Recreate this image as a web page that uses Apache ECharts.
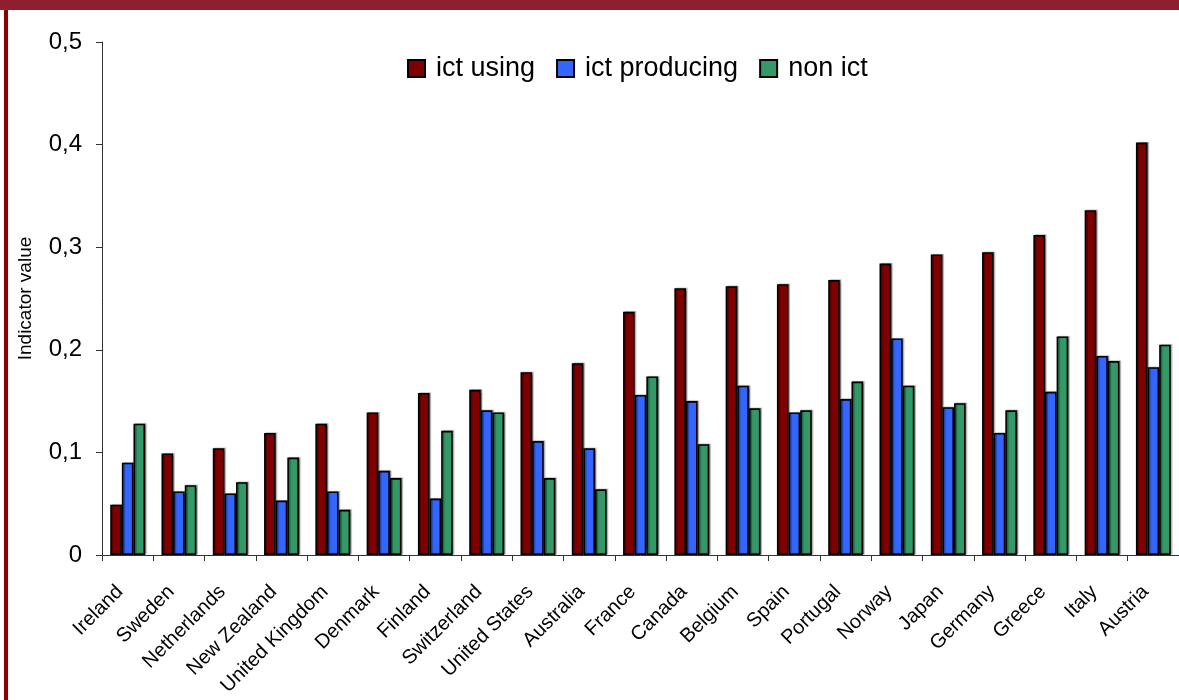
<!DOCTYPE html>
<html>
<head>
<meta charset="utf-8">
<script src="https://cdn.jsdelivr.net/npm/echarts@6/dist/echarts.min.js"></script>
<style>
  html, body { margin: 0; padding: 0; background: #fff; overflow: hidden; }
  #frame { position: relative; width: 1179px; height: 700px; background: #fff; }
  #topband { position: absolute; left: 0; top: 0; width: 1179px; height: 10px; background: #8E1F2F; z-index: 2; }
  #leftrule { position: absolute; left: 4px; top: 10px; width: 4px; height: 690px; background: #8B0000; box-shadow: 0 0 1px #c9a0a0; z-index: 2; }
  #chart { position: absolute; left: 0; top: 0; width: 1179px; height: 700px; }
</style>
</head>
<body>
<div id="frame">
  <div id="chart"></div>
  <div id="topband"></div>
  <div id="leftrule"></div>
</div>
<script>
// Countries, ordered by the ICT-using indicator
const countries = ['Ireland', 'Sweden', 'Netherlands', 'New Zealand', 'United Kingdom', 'Denmark',
  'Finland', 'Switzerland', 'United States', 'Australia', 'France', 'Canada', 'Belgium', 'Spain',
  'Portugal', 'Norway', 'Japan', 'Germany', 'Greece', 'Italy', 'Austria'];

const ictUsing = [0.049, 0.099, 0.104, 0.119, 0.128, 0.139, 0.158, 0.161, 0.178, 0.187, 0.237,
  0.260, 0.262, 0.264, 0.268, 0.284, 0.293, 0.295, 0.312, 0.336, 0.402];

const ictProducing = [0.090, 0.062, 0.060, 0.053, 0.062, 0.082, 0.055, 0.141, 0.111, 0.104, 0.156,
  0.150, 0.165, 0.139, 0.152, 0.211, 0.144, 0.119, 0.159, 0.194, 0.183];

const nonIct = [0.128, 0.068, 0.071, 0.095, 0.044, 0.075, 0.121, 0.139, 0.075, 0.064, 0.174,
  0.108, 0.143, 0.141, 0.169, 0.165, 0.148, 0.141, 0.213, 0.189, 0.205];

const seriesNames = ['ict using', 'ict producing', 'non ict'];
const seriesColors = ['#800000', '#3366FF', '#339966'];

const FONT = "'Liberation Sans', Arial, sans-serif";

const chart = echarts.init(document.getElementById('chart'), null, { renderer: 'canvas' });

const barStyle = (color) => ({
  color: color,
  borderColor: '#000',
  borderWidth: 1.6,
  shadowColor: 'rgba(0,0,0,0.35)',
  shadowBlur: 1,
  shadowOffsetX: 1.5,
  shadowOffsetY: -0.5
});

chart.setOption({
  animation: false,
  backgroundColor: 'transparent',
  textStyle: { fontFamily: FONT, color: '#000' },
  legend: {
    data: seriesNames,
    left: 407,
    top: 55,
    padding: 0,
    itemWidth: 17,
    itemHeight: 17,
    itemGap: 21,
    icon: 'rect',
    textStyle: { fontFamily: FONT, fontSize: 27, color: '#000', padding: [0, 0, 0, 6] }
  },
  grid: { left: 102, right: -5, top: 42, bottom: 145, containLabel: false },
  xAxis: {
    type: 'category',
    data: countries,
    axisLine: { show: true, lineStyle: { color: '#333', width: 1 } },
    axisTick: { show: true, alignWithLabel: false, length: 6, lineStyle: { color: '#333' } },
    axisLabel: {
      rotate: 45,
      interval: 0,
      margin: 26,
      padding: [0, 11, 0, 0],
      fontFamily: FONT,
      fontSize: 20,
      color: '#000'
    },
    splitLine: { show: false }
  },
  yAxis: {
    type: 'value',
    min: 0,
    max: 0.5,
    interval: 0.1,
    name: 'Indicator value',
    nameLocation: 'middle',
    nameRotate: 90,
    nameGap: 67,
    nameTextStyle: { fontFamily: FONT, fontSize: 19, color: '#000' },
    axisLine: { show: true, lineStyle: { color: '#333', width: 1 } },
    axisTick: { show: true, length: 6, lineStyle: { color: '#333' } },
    axisLabel: {
      margin: 20,
      fontFamily: FONT,
      fontSize: 24,
      color: '#000',
      formatter: (v) => (v === 0 ? '0' : v.toFixed(1).replace('.', ','))
    },
    splitLine: { show: false }
  },
  series: [
    { name: seriesNames[0], type: 'bar', data: ictUsing, barGap: '0%', barCategoryGap: '32%', itemStyle: barStyle(seriesColors[0]) },
    { name: seriesNames[1], type: 'bar', data: ictProducing, barGap: '0%', barCategoryGap: '32%', itemStyle: barStyle(seriesColors[1]) },
    { name: seriesNames[2], type: 'bar', data: nonIct, barGap: '0%', barCategoryGap: '32%', itemStyle: barStyle(seriesColors[2]) }
  ]
});
</script>
</body>
</html>
